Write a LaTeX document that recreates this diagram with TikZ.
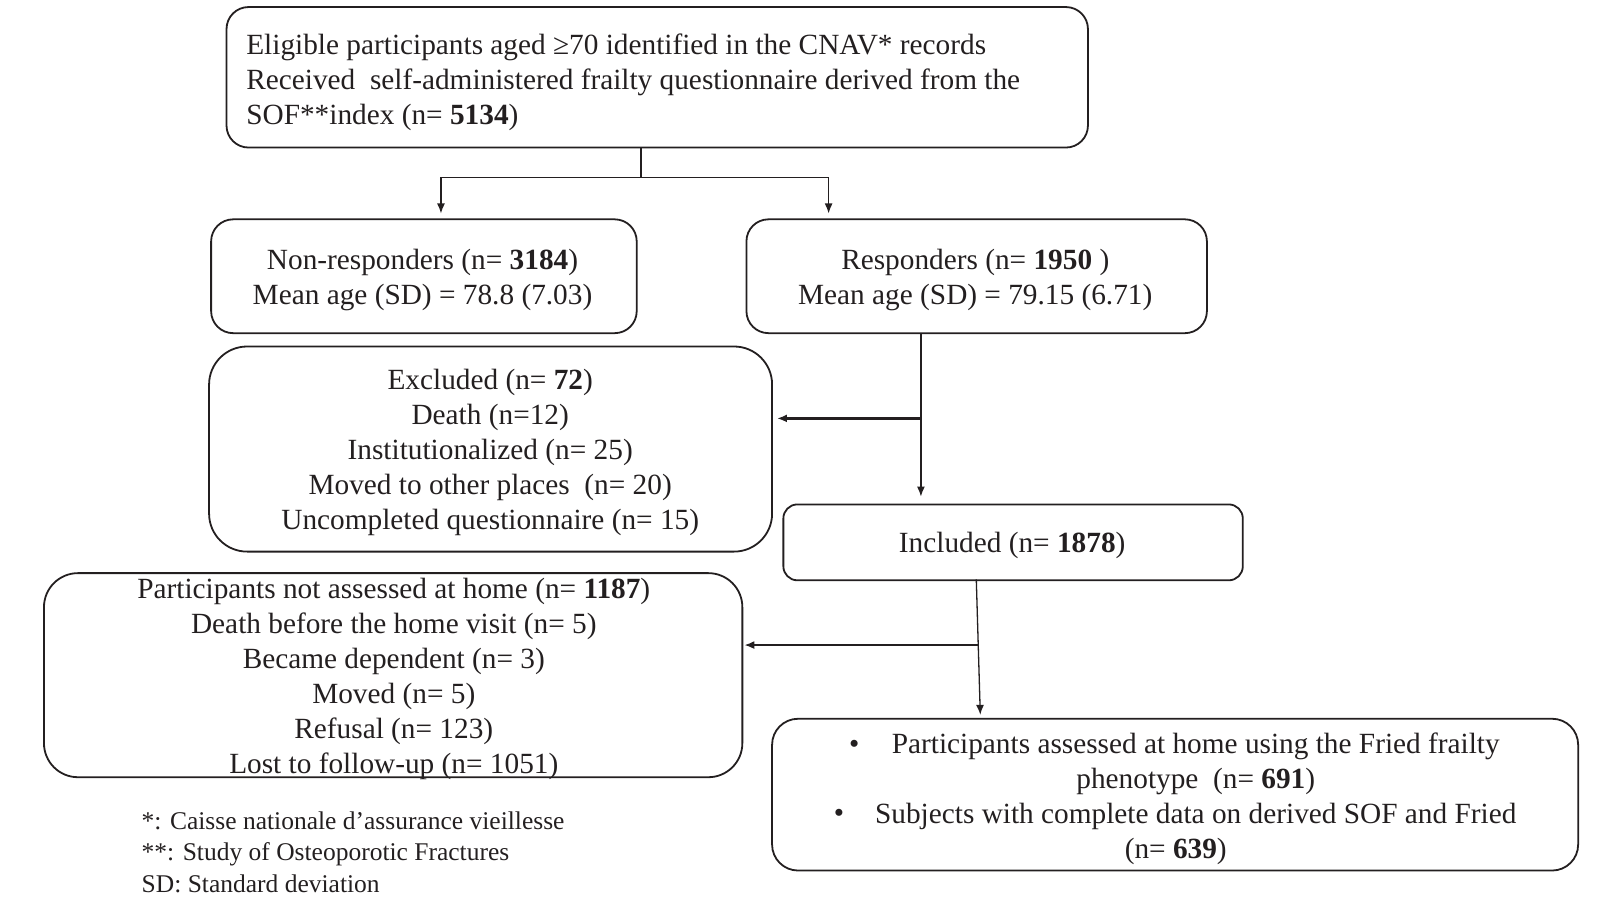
\documentclass[tikz,border=0pt]{standalone}
\usepackage{fontspec}
\setmainfont{Liberation Serif}
\usetikzlibrary{arrows.meta}
\definecolor{ink}{HTML}{231F20}
\begin{document}
\begin{tikzpicture}[x=1.0255pt,y=-1.0255pt,
  box/.style={draw=ink, line width=1.8pt, rounded corners=22pt, inner sep=0pt, anchor=north west},
  txt/.style={text=ink, inner sep=0pt, align=center, font=\fontsize{29.3}{34.9}\selectfont},
  foot/.style={text=ink, inner sep=0pt, align=left, anchor=west, font=\fontsize{25.5}{31.3}\selectfont},
  conn/.style={draw=ink, line width=1.3pt},
  arr/.style={draw=ink, line width=1.3pt, -{Latex[length=10pt,width=8pt]}},
  arrb/.style={draw=ink, line width=2.4pt, -{Latex[length=10pt,width=8pt]}}
]
\useasboundingbox (0,0) rectangle (1568,877.6);
% boxes
\node[box, minimum width=840*1.0255pt, minimum height=137*1.0255pt] (top) at (220,6) {};
\node[box, minimum width=415*1.0255pt, minimum height=111*1.0255pt] (nonr) at (205,213) {};
\node[box, minimum width=449*1.0255pt, minimum height=111*1.0255pt] (resp) at (727,213) {};
\node[box, minimum width=549*1.0255pt, minimum height=200*1.0255pt, rounded corners=38pt] (excl) at (203,337) {};
\node[box, minimum width=448*1.0255pt, minimum height=74*1.0255pt, rounded corners=14pt] (incl) at (763,491) {};
\node[box, minimum width=681*1.0255pt, minimum height=199*1.0255pt, rounded corners=34pt] (nota) at (42,558) {};
\node[box, minimum width=786*1.0255pt, minimum height=148*1.0255pt, rounded corners=26pt] (home) at (752,700) {};
% texts
\node[txt, anchor=west, align=left] (ttop) at (240,80) {Eligible participants aged ≥70 identified in the CNAV* records\\Received\ \ self-administered frailty questionnaire derived from the\\SOF**index (n= \textbf{5134})};
\node[txt] (tnonr) at (412,273) {Non-responders (n= \textbf{3184})\\Mean age (SD) = 78.8 (7.03)};
\node[txt] (tresp) at (951,273) {Responders (n= \textbf{1950} )\\Mean age (SD) = 79.15 (6.71)};
\node[txt] (texcl) at (478,441) {Excluded (n= \textbf{72})\\Death (n=12)\\Institutionalized (n= 25)\\Moved to other places\ \ (n= 20)\\Uncompleted questionnaire (n= 15)};
\node[txt] (tincl) at (987,532) {Included (n= \textbf{1878})};
\node[txt] (tnota) at (384,662) {Participants not assessed at home (n= \textbf{1187})\\Death before the home visit (n= 5)\\Became dependent (n= 3)\\Moved (n= 5)\\Refusal (n= 123)\\Lost to follow-up (n= 1051)};
\node[txt] (thome) at (1166,779) {Participants assessed at home using the Fried frailty\\phenotype\ \ (n= \textbf{691})\\Subjects with complete data on derived SOF and Fried\\\hspace*{-40pt}(n= \textbf{639})};
\node[txt] (b1) at (833,728) {•};
\node[txt] (b2) at (818,796) {•};
\node[foot] (fn) at (138,831) {*: Caisse nationale d’assurance vieillesse\\**: Study of Osteoporotic Fractures\\SD: Standard deviation};
% connectors
\coordinate (s1) at (625,173);
\coordinate (sl) at (430,173);
\coordinate (sr) at (808,173);
\coordinate (r1) at (898,408);
\coordinate (i0) at (952,565);
\coordinate (i1) at (954,629);
\coordinate (i2) at (956,700);
\draw[conn] (s1 |- top.south) -- (s1);
\draw[conn] (sl) -- (sr);
\draw[arr, shorten >=5pt] (sl) -- (sl |- nonr.north);
\draw[arr, shorten >=5pt] (sr) -- (sr |- resp.north);
\draw[arr, shorten >=7pt] (r1 |- resp.south) -- (r1 |- incl.north);
\draw[arrb, shorten >=4pt] (r1) -- (r1 -| excl.east);
\draw[arr, shorten >=3pt] (i0) -- (i2);
\draw[arrb, shorten >=1pt] (i1) -- (i1 -| nota.east);
\end{tikzpicture}
\end{document}
